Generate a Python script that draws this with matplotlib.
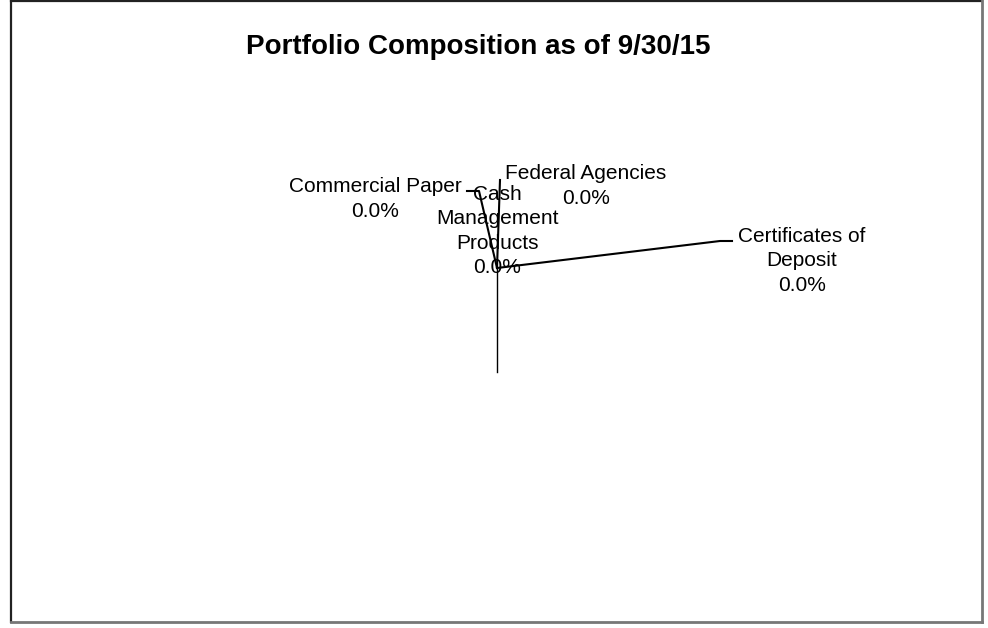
import matplotlib.pyplot as plt
from matplotlib.lines import Line2D

# Portfolio data - every sector is 0.0% so the pie collapses to a single line
categories = ["Commercial Paper", "Federal Agencies", "Cash\nManagement\nProducts", "Certificates of\nDeposit"]
shares = [0.0, 0.0, 0.0, 0.0]
title = "Portfolio Composition as of 9/30/15"

plt.rcParams['font.family'] = ['Liberation Sans', 'DejaVu Sans']

fig = plt.figure(figsize=(9.88, 6.28), dpi=100)
# axis in pixel units covering the whole figure
ax = fig.add_axes([0, 0, 1, 1])
ax.set_xlim(0, 988)
ax.set_ylim(628, 0)
ax.axis('off')

# pie centre and radius
cx, cy, radius = 497, 268, 104

# label placement (x, y centre) and leader line bends
label_pos = [(375, 199), (586, 186), (497, 231), (802, 261)]
leaders = [
    [(467, 191), (479, 191), (cx, cy)],
    [(500, 180), (cx, cy)],
    [(cx, cy), (cx, cy)],
    [(732, 241), (720, 241), (cx, cy)],
]

# the zero-width wedges all sit on the same radius
total = sum(shares)
ax.plot([cx, cx], [cy, cy + radius], color='black', lw=1)

for name, val, (lx, ly), pts in zip(categories, shares, label_pos, leaders):
    xs = [p[0] for p in pts]
    ys = [p[1] for p in pts]
    ax.plot(xs, ys, color='black', lw=1.5)
    ax.text(lx, ly, f"{name}\n{val:.1%}", ha='center', va='center',
            fontsize=15, linespacing=1.37)

ax.text(478, 47, title, ha='center', va='center', fontsize=20, fontweight='bold')

# chart frame: dark top/left, grey bottom/right shadow
ax.add_line(Line2D([11, 11], [622, 0], color='#222222', lw=1.6))
ax.add_line(Line2D([11, 982], [0.8, 0.8], color='#222222', lw=1.6))
ax.add_line(Line2D([982, 982], [0, 622], color='#777777', lw=2))
ax.add_line(Line2D([11, 982], [622, 622], color='#777777', lw=2))

fig.savefig("out.png", dpi=100)
